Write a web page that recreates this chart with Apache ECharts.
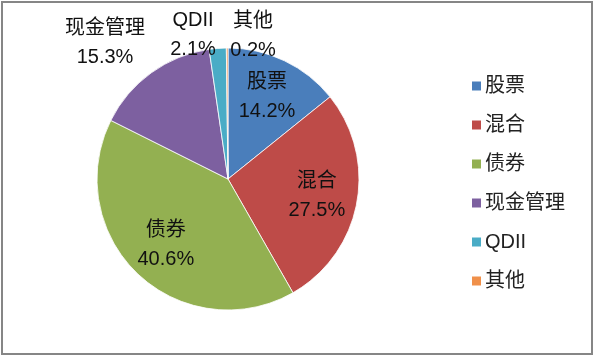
<!DOCTYPE html>
<html>
<head>
<meta charset="utf-8">
<script src="https://cdn.jsdelivr.net/npm/echarts@6/dist/echarts.min.js"></script>
<style>
html,body{margin:0;padding:0;background:#fff;}
#chart{width:594px;height:358px;}
</style>
</head>
<body>
<div id="chart"></div>
<script>
const categories = ['股票', '混合', '债券', '现金管理', 'QDII', '其他'];
const values = [14.2, 27.5, 40.6, 15.3, 2.1, 0.2];
const colors = ['#4A7EBB', '#BE4B48', '#93B051', '#7D60A0', '#4AACC6', '#F0904A'];

const CX = 228, CY = 179, R = 131;
const FONT = '"Liberation Sans", "Noto Sans CJK SC", sans-serif';
// label placement (style only): inside labels use a radial factor, outer labels use fixed offsets
const insideFactor = 0.66;
const outerLabelPos = { 3: [105, 43], 4: [193, 35], 5: [253, 36] };

const chart = echarts.init(document.getElementById('chart'), null, { renderer: 'canvas' });

chart.setOption({
  animation: false,
  backgroundColor: '#fff',
  color: colors,
  graphic: [{
    type: 'rect',
    shape: { x: 2, y: 2, width: 590, height: 352 },
    style: { fill: 'none', stroke: '#868686', lineWidth: 2 },
    silent: true
  }],
  legend: {
    orient: 'vertical',
    left: 465,
    top: 71,
    itemWidth: 11,
    itemHeight: 11,
    itemGap: 19,
    icon: 'rect',
    textStyle: { fontSize: 20, color: '#222', fontFamily: FONT, padding: [0, 0, 0, -2] },
    data: categories
  },
  series: [{
    type: 'pie',
    center: [CX, CY],
    radius: [0, R],
    startAngle: 90,
    clockwise: true,
    avoidLabelOverlap: false,
    itemStyle: { borderColor: '#fff', borderWidth: 0.8 },
    label: {
      show: true,
      position: 'inside',
      formatter: p => p.name + '\n' + p.value.toFixed(1) + '%',
      fontSize: 20,
      lineHeight: 29,
      color: '#111',
      fontFamily: FONT,
      align: 'center'
    },
    labelLine: { show: false },
    labelLayout: function (params) {
      const i = params.dataIndex;
      if (outerLabelPos[i]) {
        return { x: outerLabelPos[i][0], y: outerLabelPos[i][1], align: 'center', verticalAlign: 'middle' };
      }
      const r = params.labelRect;
      const lx = r.x + r.width / 2, ly = r.y + r.height / 2;
      const k = insideFactor / 0.5;
      return { dx: (lx - CX) * (k - 1), dy: (ly - CY) * (k - 1) };
    },
    data: categories.map((c, i) => ({ name: c, value: values[i] }))
  }]
});
</script>
</body>
</html>
